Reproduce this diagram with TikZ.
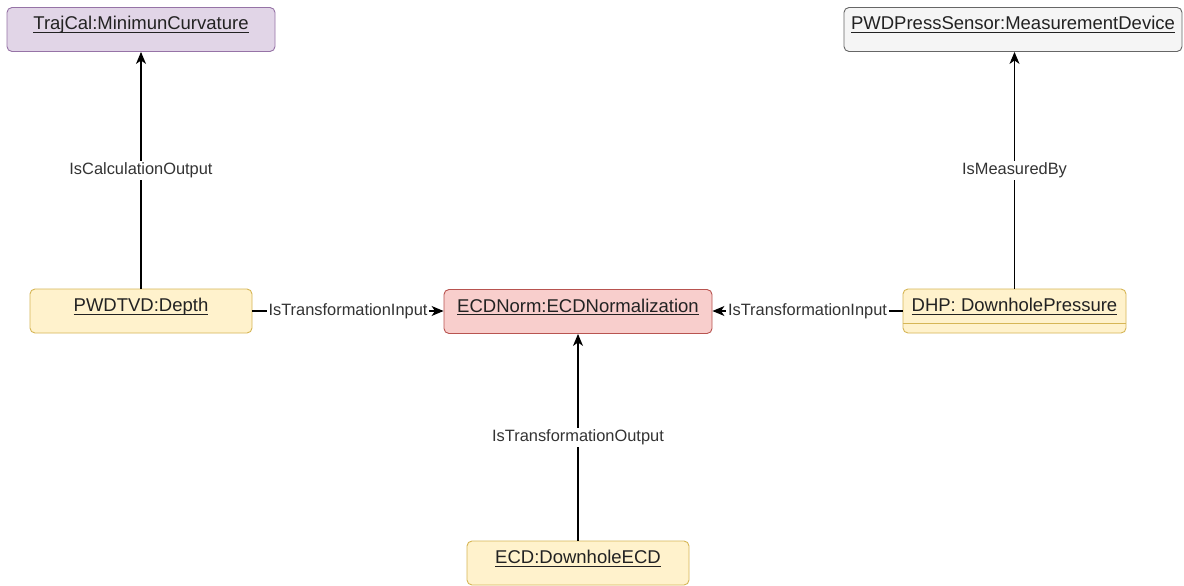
\documentclass[tikz,border=0pt]{standalone}
\usepackage{fontspec}
\setmainfont{Liberation Sans}
\usetikzlibrary{arrows.meta}
% underline at a fixed distance below the baseline, crossing descenders
\newcommand{\objname}[1]{\setbox0=\hbox{#1}\rlap{\vrule height -2.2pt depth 3.4pt width \wd0}\box0}
\definecolor{purfill}{HTML}{E1D5E7}
\definecolor{purline}{HTML}{9673A6}
\definecolor{greyfill}{HTML}{F5F5F5}
\definecolor{greyline}{HTML}{666666}
\definecolor{yelfill}{HTML}{FFF2CC}
\definecolor{yelline}{HTML}{D6B656}
\definecolor{redfill}{HTML}{F8CECC}
\definecolor{redline}{HTML}{B85450}
\definecolor{ink}{HTML}{222222}
\definecolor{labink}{HTML}{333333}
\tikzset{
  obj/.style={draw, rounded corners=5pt, line width=0.9pt, inner sep=0pt,
    minimum height=44pt, text height=22.5pt, text depth=21.5pt,
    font=\fontsize{18.5}{22}\selectfont, text=ink},
  purobj/.style={obj, fill=purfill, draw=purline},
  greyobj/.style={obj, fill=greyfill, draw=greyline},
  yelobj/.style={obj, fill=yelfill, draw=yelline},
  redobj/.style={obj, fill=redfill, draw=redline},
  rel/.style={line width=1.1pt, draw=black, -{Stealth[length=12pt,width=10pt,inset=3.5pt]}},
  rellabel/.style={fill=white, inner sep=2pt, font=\fontsize{16.4}{19}\selectfont, text=labink}
}
\begin{document}
\begin{tikzpicture}[x=1pt, y=-1pt]
  \useasboundingbox (0,0) rectangle (1184,586);
  \fill[white] (0,0) rectangle (1184,586);

  % object instances
  \node[purobj, minimum width=268pt]  (traj)   at (141,29.5)   {\objname{TrajCal:MinimunCurvature}};
  \node[greyobj, minimum width=338pt] (sensor) at (1013,29.5)  {\objname{PWDPressSensor:MeasurementDevice}};
  \node[yelobj, minimum width=222pt]  (tvd)    at (141,311)    {\objname{PWDTVD:Depth}};
  \node[redobj, minimum width=268pt]  (norm)   at (578,311.5)  {\objname{ECDNorm:ECDNormalization}};
  \node[yelobj, minimum width=223pt]  (dhp)    at (1014.5,311) {\objname{DHP: DownholePressure}};
  \node[yelobj, minimum width=222pt]  (ecd)    at (578,563)    {\objname{ECD:DownholeECD}};

  % attribute compartment divider of the pressure object
  \draw[yelline, line width=0.9pt] ([yshift=-35pt]dhp.north west) -- ([yshift=-35pt]dhp.north east);

  % relations
  \draw[rel] (tvd.north) -- node[rellabel] {IsCalculationOutput} (traj.south);
  \draw[rel] (dhp.north) -- node[rellabel] {IsMeasuredBy} (dhp.north |- sensor.south);
  \draw[rel] (tvd.east) -- node[rellabel] {IsTransformationInput} (tvd.east -| norm.west);
  \draw[rel] (dhp.west) -- node[rellabel] {IsTransformationInput} (dhp.west -| norm.east);
  \draw[rel] (ecd.north) -- node[rellabel] {IsTransformationOutput} (norm.south);
\end{tikzpicture}
\end{document}
